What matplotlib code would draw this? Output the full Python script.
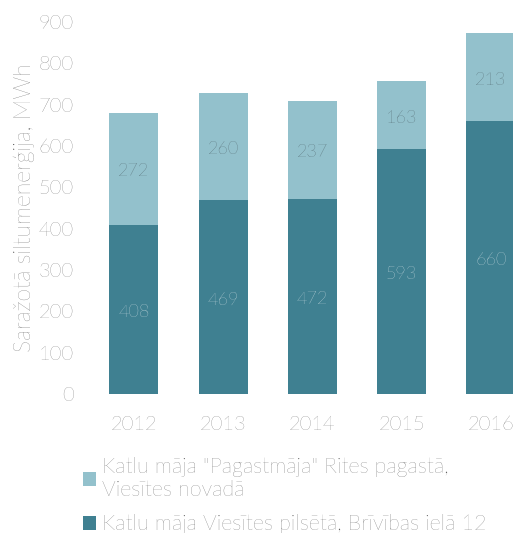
import matplotlib

matplotlib.use("Agg")
import matplotlib.pyplot as plt

plt.rcParams["font.family"] = ["Lato", "DejaVu Sans"]

LIGHT = "#93c1cc"
DARK = "#3f8091"
TICK = "#555555"

years = ["2012", "2013", "2014", "2015", "2016"]
viesite = [408, 469, 472, 593, 660]
pagastmaja = [272, 260, 237, 163, 213]
label_light = 'Katlu māja "Pagastmāja" Rites pagastā,\nViesītes novadā'
label_dark = "Katlu māja Viesītes pilsētā, Brīvības ielā 12"

fig = plt.figure(figsize=(5.13, 5.33), dpi=100)
ax = fig.add_axes([0.162, 0.261, 0.838, 0.698])

x = range(len(years))
b1 = ax.bar(x, viesite, width=0.55, color=DARK, label=label_dark)
b2 = ax.bar(x, pagastmaja, width=0.55, bottom=viesite, color=LIGHT, label=label_light)

for i, (v, p) in enumerate(zip(viesite, pagastmaja)):
    ax.text(i, v / 2 - 6, f"{v}", ha="center", va="center", color="white",
            fontsize=13, fontweight="light")
    ax.text(i, v + p / 2 - 6, f"{p}", ha="center", va="center", color="#3b4a50",
            fontsize=13, fontweight="light")

ax.set_xlim(-0.57, 4.25)
ax.set_ylim(0, 900)
ax.set_yticks(range(0, 901, 100))
ax.set_xticks(list(x))
ax.set_xticklabels(years)
for s in ax.spines.values():
    s.set_visible(False)
ax.tick_params(length=0, colors=TICK, labelsize=14.5)
ax.tick_params(axis="y", pad=7)
ax.tick_params(axis="x", pad=16)
ax.set_ylabel("Saražotā siltumenerģija, MWh", color=TICK, fontsize=16.5, labelpad=2,
              fontweight="light")
for t in ax.get_xticklabels() + ax.get_yticklabels():
    t.set_fontweight("light")

leg = ax.legend(handles=[b2, b1], loc="upper left", bbox_to_anchor=(0.0, -0.17),
                frameon=False, prop={"size": 15.5, "weight": "light"},
                labelcolor=TICK,
                handlelength=0.6, handleheight=0.6, handletextpad=0.3,
                labelspacing=0.65, borderaxespad=0, borderpad=0)

fig.savefig("out.png", facecolor="white")
